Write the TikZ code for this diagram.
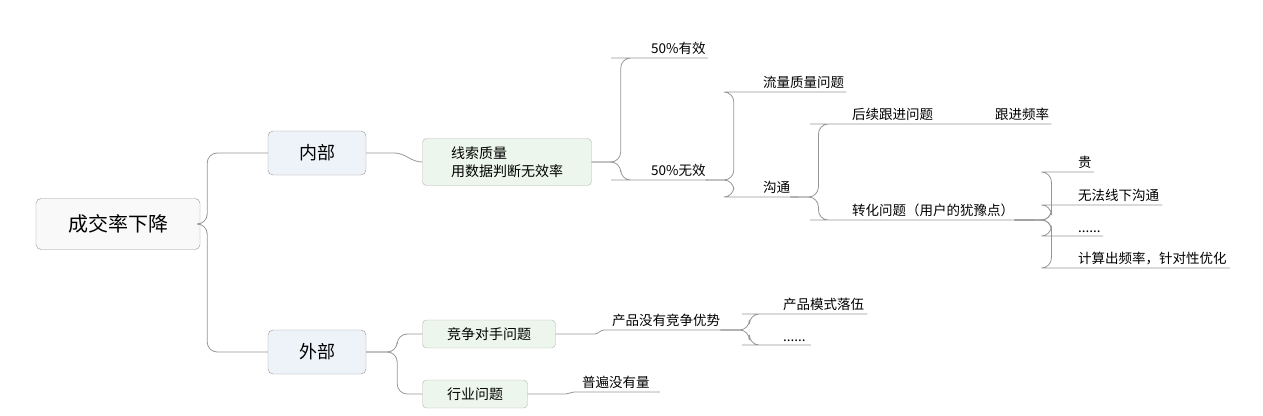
\documentclass[tikz,border=0pt]{standalone}
\usepackage{fontspec}
\setmainfont{Noto Sans CJK SC}
\usetikzlibrary{positioning}
\definecolor{linegray}{RGB}{150,150,150}
\definecolor{topfill}{RGB}{238,243,250}
\definecolor{subfill}{RGB}{236,246,236}

\begin{document}
\begin{tikzpicture}[
    x=1pt, y=-1pt,
    rootbox/.style={rectangle, draw=linegray, rounded corners=5pt, minimum width=164pt, minimum height=51pt, fill=gray!5, font=\fontsize{20}{22}\selectfont},
    topbox/.style={rectangle, draw=linegray, rounded corners=5pt, minimum width=98pt, minimum height=44pt, fill=topfill, font=\fontsize{18}{20}\selectfont},
    subbox/.style={rectangle, draw=linegray!70, rounded corners=4pt, minimum height=28pt, fill=subfill, inner xsep=18pt, align=left, font=\fontsize{14}{18}\selectfont},
    leaf/.style={anchor=south west, inner xsep=0pt, inner ysep=3pt, font=\fontsize{13.5}{15}\selectfont},
    conn/.style={draw=linegray, line width=0.8pt, rounded corners=10pt}
]
    \useasboundingbox (0,0) rectangle (1263,415);

    % boxes
    \node[rootbox] (root) at (118,224) {成交率下降};
    \node[topbox] (inner) at (317,153) {内部};
    \node[topbox] (outer) at (317,352) {外部};
    \node[subbox, minimum width=169pt, minimum height=47pt] (clue) at (507,162) {线索质量\\用数据判断无效率};
    \node[subbox, minimum width=133pt] (rival) at (489,334) {竞争对手问题};
    \node[subbox, minimum width=105pt] (trade) at (475,394) {行业问题};

    % leaves
    \node[leaf] (valid) at (651,58) {50\%有效};
    \node[leaf] (invalid) at (651,180) {50\%无效};
    \node[leaf] (traffic) at (763,92) {流量质量问题};
    \node[leaf] (talk) at (763,197) {沟通};
    \node[leaf] (follow) at (852,124) {后续跟进问题};
    \node[leaf] (freq) at (995,124) {跟进频率};
    \node[leaf] (convert) at (852,220) {转化问题（用户的犹豫点）};
    \node[leaf] (pricey) at (1078,172) {贵};
    \node[leaf] (offline) at (1078,205) {无法线下沟通};
    \node[leaf] (etc) at (1078,236) {......};
    \node[leaf] (calc) at (1078,268) {计算出频率，针对性优化};
    \node[leaf] (noedge) at (612,330) {产品没有竞争优势};
    \node[leaf] (model) at (783,314) {产品模式落伍};
    \node[leaf] (etc2) at (783,345) {......};
    \node[leaf] (novol) at (582,392) {普遍没有量};

    % connectors
    \draw[conn] (root.east) -- ++(7,0) |- (inner.west);
    \draw[conn] (root.east) -- ++(7,0) |- (outer.west);
    \draw[conn, rounded corners=0pt] (inner.east) -- ++(28,0) to[out=0,in=180] (clue.west);
    \draw[conn] (outer.east) -- ++(31,0) |- (rival.west);
    \draw[conn] (outer.east) -- ++(31,0) |- (trade.west);

    \draw[conn] (clue.east) -- ++(29,0) |- ([xshift=-30pt]valid.south west) -- ([xshift=2pt]valid.south east);
    \draw[conn] (clue.east) -- ++(29,0) |- ([xshift=-30pt]invalid.south west) -- ([xshift=2pt]invalid.south east);
    \draw[conn] (invalid.south east) -- ++(28,0) |- ([xshift=-30pt]traffic.south west) -- ([xshift=2pt]traffic.south east);
    \draw[conn] (invalid.south east) -- ++(28,0) |- ([xshift=-30pt]talk.south west) -- ([xshift=8pt]talk.south east);
    \draw[conn] (talk.south east) -- ++(28,0) |- ([xshift=-32pt]follow.south west) -- (freq.south west) -- ([xshift=2pt]freq.south east);
    \draw[conn] (talk.south east) -- ++(28,0) |- ([xshift=-32pt]convert.south west) -- ([xshift=20pt]convert.south east);
    \draw[conn] (convert.south east) -- ++(37,0) |- ([xshift=-31pt]pricey.south west) -- ([xshift=2pt]pricey.south east);
    \draw[conn] (convert.south east) -- ++(37,0) |- ([xshift=-31pt]offline.south west) -- ([xshift=3pt]offline.south east);
    \draw[conn] (convert.south east) -- ++(37,0) |- ([xshift=-31pt]etc.south west) -- ([xshift=2pt]etc.south east);
    \draw[conn] (convert.south east) -- ++(37,0) |- ([xshift=-31pt]calc.south west) -- ([xshift=3pt]calc.south east);

    \draw[conn, rounded corners=0pt] (rival.east) -- ++(39,0) to[out=0,in=180] ([xshift=-8pt]noedge.south west) -- ([xshift=20pt]noedge.south east);
    \draw[conn] (noedge.south east) -- ++(29,0) |- ([xshift=-31pt]model.south west) -- ([xshift=3pt]model.south east);
    \draw[conn] (noedge.south east) -- ++(29,0) |- ([xshift=-31pt]etc2.south west) -- ([xshift=5pt]etc2.south east);
    \draw[conn, rounded corners=0pt] (trade.east) -- ++(38,0) to[out=0,in=180] ([xshift=-8pt]novol.south west) -- ([xshift=10pt]novol.south east);
\end{tikzpicture}
\end{document}
